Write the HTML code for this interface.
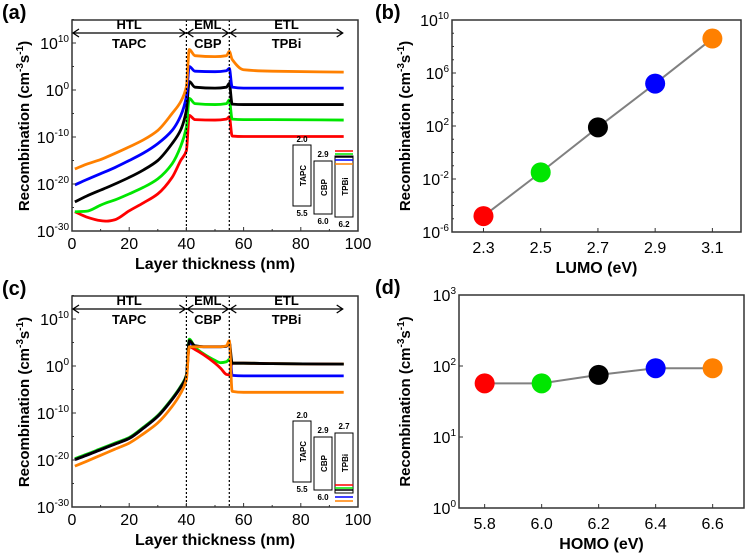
<!DOCTYPE html>
<html><head><meta charset="utf-8"><style>
body{margin:0;background:#fff}
svg{display:block;font-family:"Liberation Sans",sans-serif}
</style></head><body>
<svg id="s" width="746" height="553" viewBox="0 0 746 553"></svg>
<script>
// ---------- data ----------
const xsA=[1,5,10,12,15,20,25,30,35,38,40,41,43,50,54,55,56,60,70,95];
const aOrange=[-16.8,-15.8,-14.8,-14.3,-13.5,-12.1,-10.6,-8.6,-5,-2.5,0.7,8.6,7.3,7.1,7.3,8.2,6.5,4.3,4.0,3.8];
const aBlue=[-20.2,-19.1,-17.8,-17.3,-16.5,-15,-13.4,-11.4,-8.6,-5.5,-1.4,5,4,3.9,4.1,4.6,0.6,0.4,0.4,0.4];
const aBlack=[-23.8,-22.6,-21.3,-20.8,-20,-18.6,-17,-15,-11.4,-8.5,-4.3,1.8,0.6,0.4,0.6,1.4,-3.0,-3.1,-3.1,-3.1];
const aGreen=[-25.9,-25.8,-24.5,-24.0,-23.4,-22.1,-20.7,-18.9,-15.7,-12,-7.9,-1.8,-2.9,-3.1,-2.9,-2.1,-6.2,-6.3,-6.3,-6.4];
const aRed=[-25.9,-27,-27.8,-27.9,-27.6,-25.7,-24,-22.1,-18.6,-15,-12.9,-5.4,-6.3,-6.4,-6.2,-5.7,-9.8,-9.9,-9.9,-9.9];
const xsC=[1,5,10,15,20,25,30,35,38,40,41,43,46,50,52,54,55,56,60,70,95];
const cBlack=[-19.9,-19,-17.8,-16.6,-15.4,-13.2,-10.7,-7.1,-4.5,-2.1,5.4,4.3,4.1,4.1,4.1,4.2,5,0.6,0.6,0.5,0.4];
const cBlue=[-19.9,-19,-17.8,-16.6,-15.4,-13.2,-10.7,-7.1,-4.5,-2.1,5.0,4.2,4.1,4.1,4.1,4.2,5,-2.0,-2.1,-2.1,-2.1];
const cGreen=[-19.7,-18.8,-17.6,-16.4,-15.2,-13.0,-10.5,-6.9,-4.3,-1.9,5.7,4.0,2.6,1.2,0.7,0.9,1.4,0.6,0.6,0.5,0.4];
const cRed=[-19.9,-19,-17.8,-16.6,-15.4,-13.2,-10.7,-7.1,-4.5,-2.1,4.1,3.5,2.4,0.6,-0.5,-1.8,-1.9,0.6,0.6,0.5,0.4];
const cOrange=[-21.3,-20.3,-19,-17.7,-16.4,-14.4,-12.1,-8.6,-5.8,-2.9,4.1,4.1,4.1,4.1,4.1,4.3,5.4,-5.4,-5.6,-5.6,-5.6];
const bX=[2.3,2.5,2.7,2.9,3.1];
const bY=[-4.8,-1.5,1.9,5.2,8.6];
const dX=[5.8,6.0,6.2,6.4,6.6];
const dY=[57,57,75,93,93];
const colors=['#ff0000','#00e600','#000000','#0000ff','#ff8000'];
const xTicksA=[0,20,40,60,80,100];
const yTicksA=[10,0,-10,-20,-30];
const yTicksB=[10,6,2,-2,-6];
const yTicksD=[3,2,1,0];

const S=document.getElementById('s');
const NS='http://www.w3.org/2000/svg';
function el(tag,attrs,parent,text){const e=document.createElementNS(NS,tag);for(const k in attrs)e.setAttribute(k,attrs[k]);if(text!==undefined)e.textContent=text;(parent||S).appendChild(e);return e;}
// monotone cubic path
function mono(P){
  const n=P.length,d=[],m=[];
  for(let i=0;i<n-1;i++)d.push((P[i+1][1]-P[i][1])/(P[i+1][0]-P[i][0]));
  for(let i=0;i<n;i++){
    if(i===0)m.push(d[0]);else if(i===n-1)m.push(d[n-2]);
    else m.push(d[i-1]*d[i]<=0?0:2/(1/d[i-1]+1/d[i]));
  }
  let s='M'+P[0][0]+','+P[0][1];
  for(let i=0;i<n-1;i++){const h=(P[i+1][0]-P[i][0])/3;
    s+=` C${P[i][0]+h},${P[i][1]+m[i]*h} ${P[i+1][0]-h},${P[i+1][1]-m[i+1]*h} ${P[i+1][0]},${P[i+1][1]}`;}
  return s;
}
function pow(g,x,y,base,exp,name){
  const t=el('text',{x:x,y:y,'font-size':16,'text-anchor':'end',fill:'#000'},g);
  
  const a=document.createElementNS(NS,'tspan');a.textContent=base;t.appendChild(a);
  const b=document.createElementNS(NS,'tspan');b.setAttribute('dy',-7);b.setAttribute('font-size',10);b.textContent=exp;t.appendChild(b);
}
function ytitle(g,x,cy){
  const t=el('text',{transform:`translate(${x},${cy}) rotate(-90)`,'font-size':15,'font-weight':'bold','text-anchor':'middle'},g);
  
  t.innerHTML='Recombination (cm<tspan dy="-6" font-size="10">-3</tspan><tspan dy="6">s</tspan><tspan dy="-6" font-size="10">-1</tspan><tspan dy="6">)</tspan>';
}

// ---- profile panels (a) & (c)
function profile(oy,label,xs,series,inset){
  const g=el('g',{});
  const L=72,R=358,T=oy+20,B=oy+231;
  const X=v=>L+(v)*(R-L)/100;
  const Y=d=>oy+90-(d)*4.7;
  el('text',{x:2,y:oy+19,'font-size':20,'font-weight':'bold'},g,'('+label+')');
  series.forEach(([vals,c,n])=>{
    const p=el('path',{d:mono(xs.map((x,i)=>[X(x),Y(vals[i])])),fill:'none',stroke:c,'stroke-width':2.8,'stroke-linejoin':'round'},g);
    
  });
  [40,55].forEach(v=>{el('line',{x1:X(v),x2:X(v),y1:T,y2:B,stroke:'#000','stroke-width':1.2,'stroke-dasharray':'2,2'},g);});
  el('rect',{x:L,y:T,width:R-L,height:B-T,fill:'none',stroke:'#333','stroke-width':1.5},g);
  xTicksA.forEach(v=>{el('line',{x1:X(v),x2:X(v),y1:B,y2:B-4,stroke:'#333'},g);
    el('text',{x:X(v),y:B+18,'font-size':16,'text-anchor':'middle'},g,v);});
  for(let v=10;v<100;v+=20)el('line',{x1:X(v),x2:X(v),y1:B,y2:B-2,stroke:'#333'},g);
  yTicksA.forEach(d=>{el('line',{x1:L,x2:L+4,y1:Y(d),y2:Y(d),stroke:'#333'},g);pow(g,L-3,Y(d)+6,'10',d,'y-tick-label');});
  for(let d=-25;d<=15;d+=10)el('line',{x1:L,x2:L+2,y1:Y(d),y2:Y(d),stroke:'#333'},g);
  el('text',{x:215,y:oy+269,'font-size':16,'font-weight':'bold','text-anchor':'middle'},g,'Layer thickness (nm)');
  ytitle(g,29,oy+126);
  const ay=oy+33;
  [[0,40,'HTL','TAPC'],[40,55,'EML','CBP'],[55,95,'ETL','TPBi']].forEach(([a,b,t1,t2])=>{
    const x1=X(a)+1,x2=X(b)-1;
    const ar=el('g',{},g);
    el('line',{x1:x1,x2:x2,y1:ay,y2:ay,stroke:'#000','stroke-width':1.3},ar);
    el('polyline',{points:`${x1+6},${ay-4} ${x1},${ay} ${x1+6},${ay+4}`,fill:'none',stroke:'#000','stroke-width':1.3},ar);
    el('polyline',{points:`${x2-6},${ay-4} ${x2},${ay} ${x2-6},${ay+4}`,fill:'none',stroke:'#000','stroke-width':1.3},ar);
    el('text',{x:(x1+x2)/2,y:ay-4,'font-size':13,'font-weight':'bold','text-anchor':'middle'},ar,t1);
    el('text',{x:(x1+x2)/2,y:ay+15,'font-size':13,'font-weight':'bold','text-anchor':'middle'},ar,t2);
  });
  const ins=el('g',{},g);
  const box=(x,y1,y2,name)=>{el('rect',{x:x,y:oy+y1,width:18,height:y2-y1,fill:'#fff',stroke:'#000','stroke-width':1},ins);
    el('text',{transform:`translate(${x+13},${oy+(y1+y2)/2}) rotate(-90)`,'font-size':8,'font-weight':'bold','text-anchor':'middle'},ins,name);};
  box(293,145,206,'TAPC');box(314,161,214,'CBP');box(335,inset.tTop,217,'TPBi');
  const sm=(x,y,t)=>el('text',{x:x,y:oy+y,'font-size':8,'font-weight':'bold','text-anchor':'middle'},ins,t);
  sm(302,142,'2.0');sm(302,216,'5.5');sm(323,157,'2.9');sm(323,224,'6.0');
  if(inset.top)sm(344,153,inset.top); if(inset.bot)sm(344,227,inset.bot);
  inset.lines.forEach((y,i)=>el('line',{x1:335,x2:353,y1:oy+y,y2:oy+y,stroke:colors[i],'stroke-width':1.6},ins));
}
profile(0,'a',xsA,[[aRed,colors[0],'red'],[aGreen,colors[1],'green'],[aBlack,colors[2],'black'],[aBlue,colors[3],'blue'],[aOrange,colors[4],'orange']],
  {tTop:156,top:null,bot:'6.2',lines:[151,154,157,160,164]});
profile(276,'c',xsC,[[cGreen,colors[1],'green'],[cRed,colors[0],'red'],[cBlue,colors[3],'blue'],[cBlack,colors[2],'black'],[cOrange,colors[4],'orange']],
  {tTop:157,top:'2.7',bot:null,lines:[209,212,214,221,225]});

// ---- scatter panels (b) & (d)
function scatter(cfg){
  const g=el('g',{});
  const {L,R,T,B,x0,x1,d0,d1}=cfg;
  const X=v=>L+(v-x0)*(R-L)/(x1-x0);
  const Y=d=>B-(d-d0)*(B-T)/(d1-d0);
  el('text',{x:cfg.lx,y:T-1,'font-size':20,'font-weight':'bold'},g,'('+cfg.label+')');
  el('rect',{x:L,y:T,width:R-L,height:B-T,fill:'none',stroke:'#333','stroke-width':1.5},g);
  cfg.xs.forEach(v=>{el('line',{x1:X(v),x2:X(v),y1:B,y2:B-4,stroke:'#333'},g);
    el('text',{x:X(v),y:B+21,'font-size':16,'text-anchor':'middle'},g,v.toFixed(1));});
  for(let d=Math.ceil(d0);d<=d1;d++)el('line',{x1:L,x2:L+2,y1:Y(d),y2:Y(d),stroke:'#333'},g);
  cfg.yt.forEach(d=>{el('line',{x1:L,x2:L+4,y1:Y(d),y2:Y(d),stroke:'#333'},g);pow(g,L-3,Y(d)+6,'10',d,'y-tick-label');});
  const ld=cfg.ys.map(cfg.tr);
  const ln=el('polyline',{points:cfg.xs.map((x,i)=>X(x)+','+Y(ld[i])).join(' '),fill:'none',stroke:'#808080','stroke-width':2},g);
  
  cfg.xs.forEach((x,i)=>{const c=el('circle',{cx:X(x),cy:Y(ld[i]),r:10,fill:colors[i]},g);
    });
  el('text',{x:(L+R)/2,y:B+41,'font-size':16,'font-weight':'bold','text-anchor':'middle'},g,cfg.xl);
  ytitle(g,cfg.tx,(T+B)/2);
}
scatter({label:'b',lx:375,L:452,R:741,T:20,B:232,x0:2.19,x1:3.2,d0:-6,d1:10,xs:bX,ys:bY,tr:v=>v,yt:yTicksB,xl:'LUMO (eV)',tx:410});
scatter({label:'d',lx:375,L:459,R:744,T:295,B:508,x0:5.71,x1:6.71,d0:0,d1:3,xs:dX,ys:dY,tr:v=>Math.log10(v),yt:yTicksD,xl:'HOMO (eV)',tx:410});
</script>
</body></html>
